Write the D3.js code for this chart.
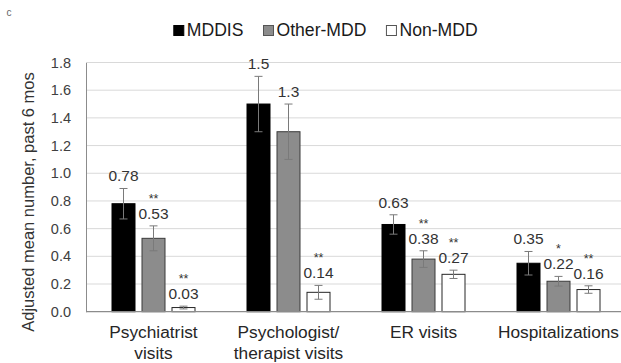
<!DOCTYPE html>
<html>
<head>
<meta charset="utf-8">
<script src="https://cdn.jsdelivr.net/npm/d3@7"></script>
<style>
  html, body { margin: 0; padding: 0; background: #fff; }
  svg { display: block; font-family: "Liberation Sans", Arial, sans-serif; }
</style>
</head>
<body>
<svg id="chart" width="621" height="363"></svg>
<script>
// Service use, adjusted mean number over the past 6 months
const categories = ["Psychiatrist visits", "Psychologist/ therapist visits", "ER visits", "Hospitalizations"];
const categoryLines = [["Psychiatrist", "visits"], ["Psychologist/", "therapist visits"], ["ER visits"], ["Hospitalizations"]];
const series = ["MDDIS", "Other-MDD", "Non-MDD"];

const mddisValues = [0.78, 1.5, 0.63, 0.35];
const otherMddValues = [0.53, 1.3, 0.38, 0.22];
const nonMddValues = [0.03, 0.14, 0.27, 0.16];

// half-width of the error bars
const mddisErrors = [0.11, 0.2, 0.07, 0.085];
const otherMddErrors = [0.09, 0.2, 0.06, 0.035];
const nonMddErrors = [0.01, 0.05, 0.03, 0.027];

// significance markers versus MDDIS
const mddisSig = ["", "", "", ""];
const otherMddSig = ["**", "", "**", "*"];
const nonMddSig = ["**", "**", "**", "**"];

const yTicks = [0, 0.2, 0.4, 0.6, 0.8, 1.0, 1.2, 1.4, 1.6, 1.8];

const valuesBySeries = [mddisValues, otherMddValues, nonMddValues];
const errorsBySeries = [mddisErrors, otherMddErrors, nonMddErrors];
const sigBySeries = [mddisSig, otherMddSig, nonMddSig];

const fills = { "MDDIS": "#000000", "Other-MDD": "#8c8c8c", "Non-MDD": "#ffffff" };
const strokes = { "MDDIS": "#000000", "Other-MDD": "#3a3a3a", "Non-MDD": "#262626" };

const rows = [];
categories.forEach((c, i) => {
  series.forEach((s, j) => {
    rows.push({ category: c, series: s, value: valuesBySeries[j][i], err: errorsBySeries[j][i], sig: sigBySeries[j][i] });
  });
});

const svg = d3.select("#chart");
const plotLeft = 86, plotRight = 626, plotTop = 62.5, plotBottom = 311.7;

const x0 = d3.scaleBand().domain(categories).range([plotLeft, plotRight]);
const x1 = d3.scaleBand().domain(series).range([0, x0.bandwidth()]).paddingInner(0.2).paddingOuter(0.85);
const y = d3.scaleLinear().domain([0, 1.8]).range([plotBottom, plotTop]);

// panel letter
svg.append("text").attr("x", 6.5).attr("y", 15.5)
  .attr("font-size", 10).attr("fill", "#666").text("c");

// gridlines
svg.append("g").selectAll("line")
  .data(yTicks.filter(t => t > 0))
  .join("line")
  .attr("x1", plotLeft).attr("x2", 621)
  .attr("y1", d => y(d)).attr("y2", d => y(d))
  .attr("stroke", "#d9d9d9").attr("stroke-width", 1);

// y axis
const yAxis = svg.append("g")
  .attr("transform", `translate(${plotLeft},0)`)
  .call(d3.axisLeft(y).tickValues(yTicks).tickFormat(d3.format(".1f")).tickSize(0).tickPadding(15));
yAxis.select(".domain").attr("stroke", "#8c8c8c");
yAxis.selectAll("text").attr("font-size", 14.5).attr("fill", "#404040")
  .attr("font-family", "'Liberation Sans', Arial, sans-serif");

// y title
svg.append("text")
  .attr("transform", "translate(34,202) rotate(-90)")
  .attr("text-anchor", "middle")
  .attr("font-size", 16.5).attr("fill", "#333")
  .text("Adjusted mean number, past 6 mos");

// bars
const groups = svg.append("g").selectAll("g")
  .data(rows).join("g")
  .attr("transform", d => `translate(${x0(d.category) + x1(d.series)},0)`);

groups.append("rect")
  .attr("x", 0.5)
  .attr("width", x1.bandwidth() - 1)
  .attr("y", d => y(d.value))
  .attr("height", d => y(0) - y(d.value))
  .attr("fill", d => fills[d.series])
  .attr("stroke", d => strokes[d.series])
  .attr("stroke-width", 1);

// x axis baseline
svg.append("line")
  .attr("x1", plotLeft).attr("x2", 621)
  .attr("y1", y(0)).attr("y2", y(0))
  .attr("stroke", "#8c8c8c").attr("stroke-width", 1.2);

// error bars
const cx = x1.bandwidth() / 2;
const capHalf = 4;
groups.append("line")
  .attr("x1", cx).attr("x2", cx)
  .attr("y1", d => y(d.value + d.err)).attr("y2", d => y(d.value - d.err))
  .attr("stroke", "#7a7a7a").attr("stroke-width", 1);
groups.append("line")
  .attr("x1", cx - capHalf).attr("x2", cx + capHalf)
  .attr("y1", d => y(d.value + d.err)).attr("y2", d => y(d.value + d.err))
  .attr("stroke", "#7a7a7a").attr("stroke-width", 1);
groups.append("line")
  .attr("x1", cx - capHalf).attr("x2", cx + capHalf)
  .attr("y1", d => y(d.value - d.err)).attr("y2", d => y(d.value - d.err))
  .attr("stroke", "#7a7a7a").attr("stroke-width", 1);

// value labels
groups.append("text")
  .attr("x", cx)
  .attr("y", d => y(d.value + d.err) - 7)
  .attr("text-anchor", "middle")
  .attr("font-size", 15.5).attr("fill", "#333")
  .text(d => String(d.value));

// significance markers
groups.filter(d => d.sig).append("text")
  .attr("x", cx)
  .attr("y", d => y(d.value + d.err) - 7 - 16)
  .attr("text-anchor", "middle")
  .attr("font-size", 12.5).attr("fill", "#333")
  .text(d => d.sig);

// category labels
const catG = svg.append("g").selectAll("text")
  .data(categories).join("text")
  .attr("x", d => x0(d) + x0.bandwidth() / 2)
  .attr("y", 337.7)
  .attr("text-anchor", "middle")
  .attr("font-size", 17.3).attr("fill", "#262626");
catG.selectAll("tspan")
  .data((d, i) => categoryLines[i])
  .join("tspan")
  .attr("x", function () { return d3.select(this.parentNode).attr("x"); })
  .attr("dy", (d, i) => i === 0 ? 0 : 21.5)
  .text(d => d);

// legend
const legend = svg.append("g");
let lx = 173.3;
series.forEach(s => {
  legend.append("rect")
    .attr("x", lx + 0.5).attr("y", 25.5).attr("width", 10).attr("height", 10)
    .attr("fill", fills[s]).attr("stroke", s === "MDDIS" ? "#000" : "#555").attr("stroke-width", 1);
  const t = legend.append("text")
    .attr("x", lx + 13.5).attr("y", 36)
    .attr("font-size", 17.6).attr("fill", "#1a1a1a")
    .text(s);
  lx = lx + 13.5 + t.node().getComputedTextLength() + 19.5;
});
</script>
</body>
</html>
